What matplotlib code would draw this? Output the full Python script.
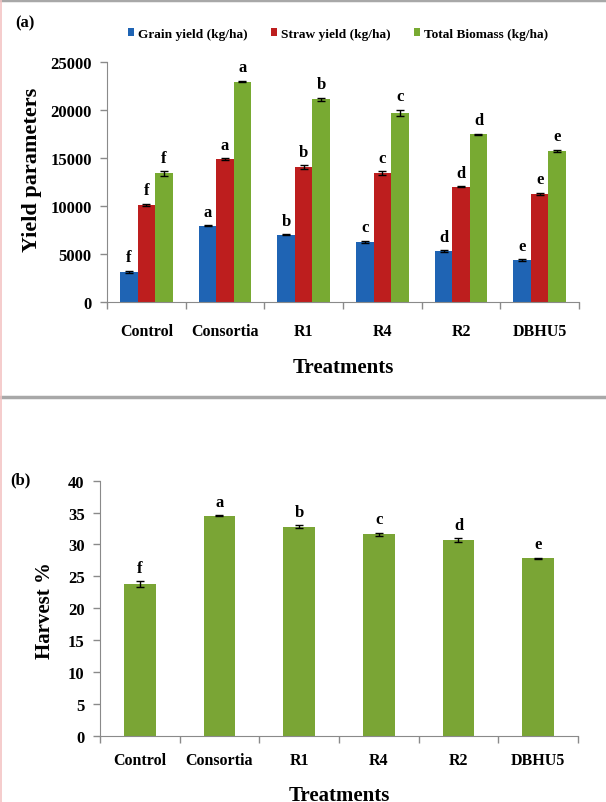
import numpy as np
import matplotlib.pyplot as plt
from matplotlib.lines import Line2D

plt.rcParams['font.family'] = ['Liberation Serif', 'DejaVu Serif']
plt.rcParams['font.weight'] = 'bold'

# data
treatments = ['Control', 'Consortia', 'R1', 'R4', 'R2', 'DBHU5']
grain = [3150, 7950, 7000, 6250, 5330, 4370]
grain_err = [120, 60, 60, 100, 70, 70]
straw = [10130, 14900, 14050, 13400, 12000, 11270]
straw_err = [120, 70, 180, 200, 40, 90]
total = [13400, 22950, 21100, 19680, 17450, 15720]
total_err = [230, 70, 150, 330, 60, 140]
grain_let = ['f', 'a', 'b', 'c', 'd', 'e']
straw_let = ['f', 'a', 'b', 'c', 'd', 'e']
total_let = ['f', 'a', 'b', 'c', 'd', 'e']

harvest = [23.8, 34.5, 32.8, 31.6, 30.7, 27.8]
harvest_err = [0.4, 0.1, 0.2, 0.25, 0.25, 0.1]
harvest_let = ['f', 'a', 'b', 'c', 'd', 'e']

col_grain = '#1f64b4'
col_straw = '#bd1e1e'
col_total = '#78aa32'
col_harv = '#7aa535'
axcol = '#8a8a8a'


def style_axis(ax, ylim, yt, xpad):
    ax.spines['top'].set_visible(False)
    ax.spines['right'].set_visible(False)
    ax.spines['left'].set_color(axcol)
    ax.spines['bottom'].set_color(axcol)
    ax.set_xlim(-0.5, len(treatments) - 0.5)
    ax.set_ylim(*ylim)
    ax.set_yticks(yt)
    ax.tick_params(axis='y', direction='out', length=5, width=1, color=axcol,
                   labelsize=12, pad=6)
    ax.set_xticks(np.arange(len(treatments)))
    ax.set_xticklabels(treatments, fontsize=11.5, fontweight='bold')
    ax.tick_params(axis='x', which='major', length=0, pad=xpad)
    ax.set_xticks(np.arange(len(treatments) + 1) - 0.5, minor=True)
    ax.tick_params(axis='x', which='minor', direction='out', length=5, width=1, color=axcol)
    for lab in ax.get_yticklabels():
        lab.set_fontweight('bold')


def letters(ax, xs, tops, errs, labs, off):
    for x, t, e, l in zip(xs, tops, errs, labs):
        ax.annotate(l, (x, t + e), xytext=(0, off), textcoords='offset points',
                    ha='center', va='bottom', fontsize=12, fontweight='bold')


fig = plt.figure(figsize=(6.06, 8.03), dpi=100)

# panel (a)
ax1 = fig.add_axes([107/606, 1-303/803, 472/606, 240/803])
x = np.arange(len(treatments))
bw = 0.222
ek = dict(ecolor='k', elinewidth=1, capsize=3, capthick=1)
b1 = ax1.bar(x - bw, grain, bw, yerr=grain_err, color=col_grain, error_kw=ek, label='Grain yield (kg/ha)')
b2 = ax1.bar(x, straw, bw, yerr=straw_err, color=col_straw, error_kw=ek, label='Straw yield (kg/ha)')
b3 = ax1.bar(x + bw, total, bw, yerr=total_err, color=col_total, error_kw=ek, label='Total Biomass (kg/ha)')
letters(ax1, x - bw, grain, grain_err, grain_let, 4)
letters(ax1, x, straw, straw_err, straw_let, 4)
letters(ax1, x + bw, total, total_err, total_let, 4)
style_axis(ax1, (0, 25000), [0, 5000, 10000, 15000, 20000, 25000], 15)
ax1.set_xlabel('Treatments', fontsize=15, fontweight='bold', labelpad=13)
ax1.set_ylabel('Yield parameters', fontsize=16, fontweight='bold')
ax1.yaxis.set_label_coords(-0.138, 0.554)

fig.legend(handles=[b1, b2, b3], loc='center', bbox_to_anchor=(0.558, 1-35/803),
           ncol=3, frameon=False, handlelength=0.5, handleheight=0.5,
           handletextpad=0.3, columnspacing=1.7, prop={'size': 9.6, 'weight': 'bold'})
fig.text(15/606, 1-23/803, '(a)', fontsize=12, fontweight='bold', va='center')

# panel (b)
ax2 = fig.add_axes([100/606, 1-736.7/803, 478/606, 255/803])
ax2.bar(x, harvest, 0.40, yerr=harvest_err, color=col_harv, error_kw=ek)
letters(ax2, x, harvest, harvest_err, harvest_let, 4)
style_axis(ax2, (0, 40), np.arange(0, 41, 5), 12)
ax2.set_xlabel('Treatments', fontsize=15, fontweight='bold', labelpad=12)
ax2.set_ylabel('Harvest %', fontsize=15, fontweight='bold')
ax2.yaxis.set_label_coords(-0.094, 0.493)
fig.text(10/606, 1-480/803, '(b)', fontsize=12, fontweight='bold', va='center')

# frame lines of the original figure page
fig.add_artist(Line2D([0, 1], [1-1/803, 1-1/803], color='#a8a8a8', lw=2.5))
fig.add_artist(Line2D([0, 1], [1-398/803, 1-398/803], color='#a8a8a8', lw=2.5))
fig.add_artist(Line2D([0.7/606, 0.7/606], [0, 1], color='#f3c4c4', lw=1.2))

fig.savefig('out.png', dpi=100)
